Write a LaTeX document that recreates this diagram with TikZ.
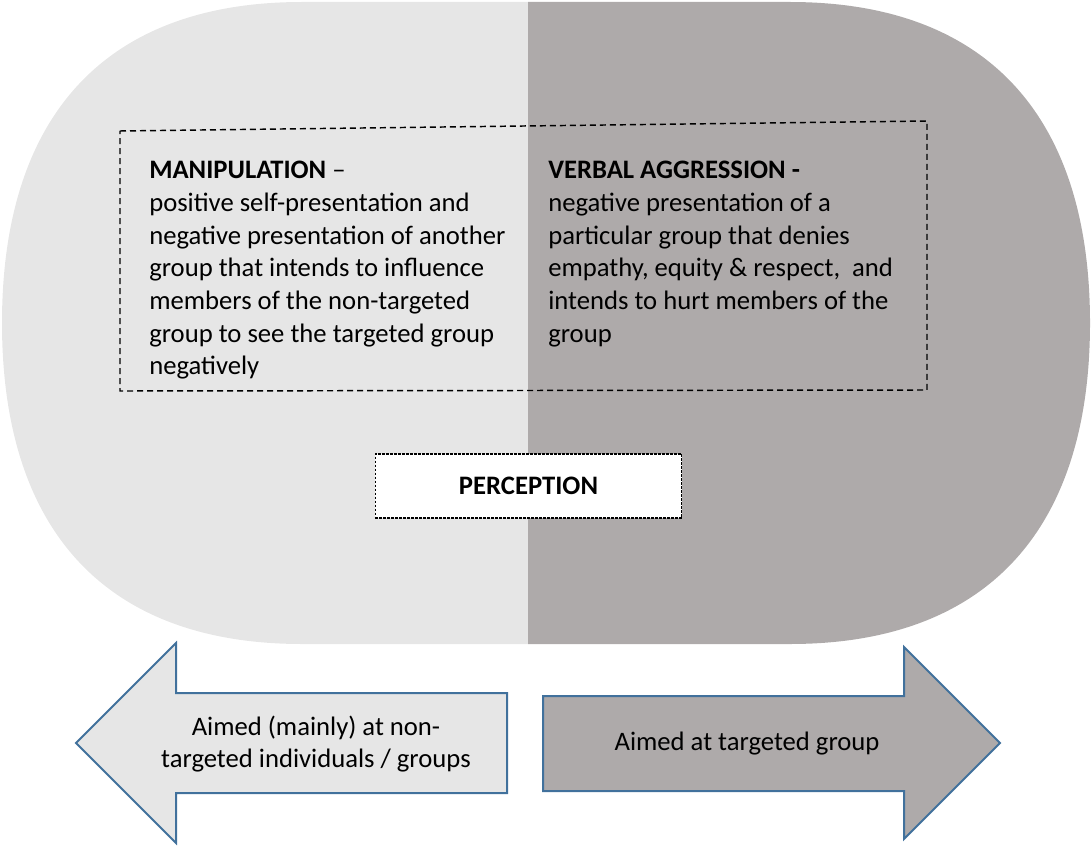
\documentclass[tikz,border=0pt]{standalone}
\usepackage{fontspec}
\setmainfont{Carlito}
\definecolor{paleside}{HTML}{E6E6E6}
\definecolor{darkside}{HTML}{AEAAAA}
\definecolor{rimblue}{HTML}{41719C}

\begin{document}
\begin{tikzpicture}[x=0.75pt,y=-0.75pt,font=\fontsize{20}{24.5}\selectfont]
\tikzstyle{blurb} = [anchor=north west, align=left, inner sep=0pt]
\tikzstyle{aimtext} = [align=center, inner sep=0pt]
\tikzstyle{aimshape} = [draw=rimblue, line width=1.5pt, line join=miter]
\useasboundingbox (0,0) rectangle (1091,845);
\fill[paleside] (528,2) -- (302,2) .. controls (107,2) and (2,114) .. (2,323) .. controls (2,532) and (107,644) .. (302,644) -- (528,644) -- cycle;
\fill[darkside] (528,2) -- (790,2) .. controls (985,2) and (1090,114) .. (1090,323) .. controls (1090,532) and (985,644) .. (790,644) -- (528,644) -- cycle;
\draw[line width=1.1pt, dash pattern=on 4.5pt off 3pt] (120,131) -- (927,121) -- (927,390) -- (120,391) -- cycle;
\node[blurb] (manip) at (149,161) {\textbf{MANIPULATION} --\\positive self-presentation and\\negative presentation of another\\group that intends to influence\\members of the non-targeted\\group to see the targeted group\\negatively};
\node[blurb] (verbal) at (548,161) {\textbf{VERBAL AGGRESSION -}\\negative presentation of a\\particular group that denies\\empathy, equity \& respect,~ and\\intends to hurt members of the\\group};
\node[draw, fill=white, line width=0.8pt, dash pattern=on 2pt off 1pt, minimum width=230pt, minimum height=48pt, font=\fontsize{20}{24.5}\selectfont\bfseries] (percep) at (528.5,486) {PERCEPTION};
\filldraw[aimshape, fill=paleside] (76,743) -- (176,643) -- (176,693) -- (507,693) -- (507,793) -- (176,793) -- (176,843) -- cycle;
\filldraw[aimshape, fill=darkside] (543,696) -- (904,696) -- (904,647) -- (1000,743) -- (904,839) -- (904,791) -- (543,791) -- cycle;
\node[aimtext] (aimleft) at (316,744) {Aimed (mainly) at non-\\targeted individuals / groups};
\node[aimtext] (aimright) at (747,744) {Aimed at targeted group};
\end{tikzpicture}
\end{document}
